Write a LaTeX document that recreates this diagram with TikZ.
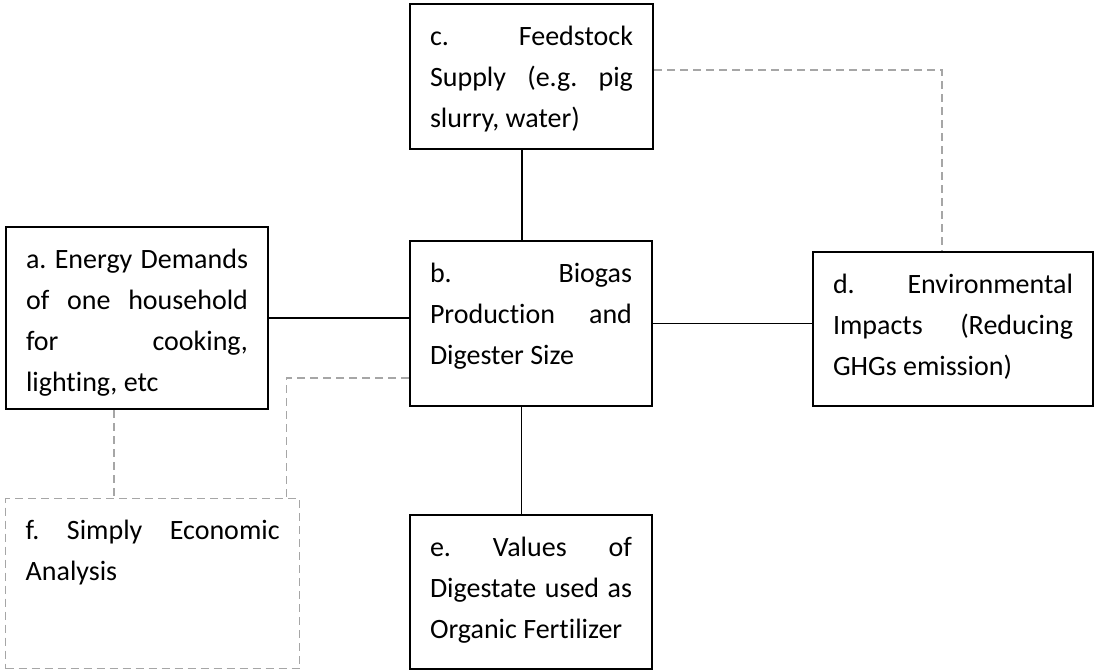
\documentclass[tikz,border=0pt]{standalone}
\usepackage{fontspec}
\setmainfont{Carlito}[Ligatures=NoCommon]
\usepackage{tikz}
\usetikzlibrary{calc}
\definecolor{BoxColor}{RGB}{0,0,0}
\definecolor{LinkColor}{RGB}{166,166,166}
\tolerance=10000
\hbadness=10000
\hyphenpenalty=10000
\tikzstyle{box} = [draw=BoxColor, line width=1pt, anchor=north west, inner xsep=10pt, inner ysep=0pt, text height=20.5pt, align=justify, font=\fontsize{14pt}{20.5pt}\selectfont\frenchspacing]
\tikzstyle{dashbox} = [box, draw=LinkColor, line width=0.7pt, dash pattern=on 4pt off 2.5pt]
\tikzstyle{link} = [line width=0.8pt, BoxColor]
\tikzstyle{softlink} = [line width=0.7pt, LinkColor, dash pattern=on 4pt off 2.5pt]
\begin{document}
\begin{tikzpicture}[x=0.5pt, y=-0.5pt]
    \useasboundingbox (0,0) rectangle (1094,670);

    % Boxes
    \node[box, text width=101.5pt, text depth=52pt] (c) at (409,3) {c. Feedstock\linebreak Supply (e.g. pig\linebreak slurry, water)};
    \node[box, text width=111pt, text depth=70.5pt] (a) at (5,226) {a. Energy Demands\linebreak of one household\linebreak for cooking,\linebreak lighting, etc};
    \node[box, text width=101pt, text depth=62pt] (b) at (409,240) {b. Biogas\linebreak Production and\linebreak Digester Size};
    \node[box, text width=120pt, text depth=56.5pt] (d) at (812,251) {d. Environmental\linebreak Impacts (Reducing\linebreak GHGs emission)};
    \node[box, text width=101pt, text depth=56.5pt] (e) at (409,514) {e. Values of\linebreak Digestate used as\linebreak Organic Fertilizer};
    \node[dashbox, text width=127pt, text depth=64.5pt] (f) at (5,498) {f. Simply Economic\linebreak Analysis};

    % Solid links
    \draw[link] ([xshift=-4.75pt]c.south) -- ([xshift=-4.75pt]c.south |- b.north);
    \draw[link] (a.east) -- (a.east -| b.west);
    \draw[link] (b.east) -- (b.east -| d.west);
    \draw[link] ([xshift=-4.75pt]b.south) -- ([xshift=-4.75pt]b.south |- e.north);

    % Dashed links
    \draw[softlink] ([yshift=3.25pt]c.east) -| ([xshift=-5.5pt]d.north);
    \draw[softlink] ([xshift=-11.5pt]a.south) -- ([xshift=-11.5pt]a.south |- f.north);
    \draw[softlink] ([yshift=-27.25pt]b.west) -| ([xshift=-7pt]f.north east);
\end{tikzpicture}
\end{document}
